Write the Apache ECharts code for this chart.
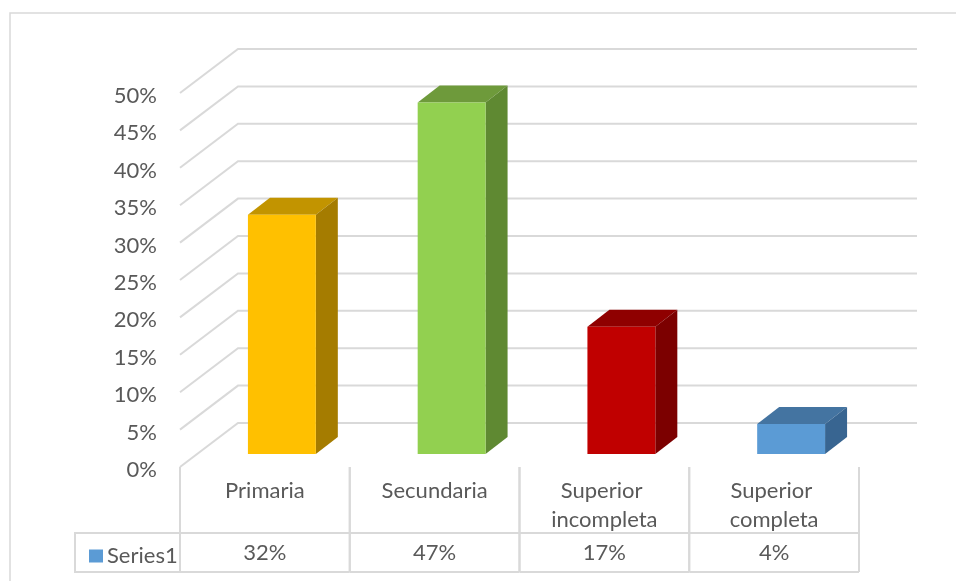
<!DOCTYPE html>
<html>
<head>
<meta charset="utf-8">
<script src="https://cdn.jsdelivr.net/npm/echarts@6/dist/echarts.min.js"></script>
<style>
  html, body { margin: 0; padding: 0; background: #ffffff; }
  #chart { width: 956px; height: 581px; }
</style>
</head>
<body>
<div id="chart"></div>
<script>
// Education level shares
const categories = ['Primaria', 'Secundaria', 'Superior incompleta', 'Superior completa'];
const shares = [32, 47, 17, 4];
const seriesName = 'Series1';
const wallTicks = [0, 5, 10, 15, 20, 25, 30, 35, 40, 45, 50];

// Face shading for each column: front, top, right side
const palette = [
  { front: '#FFC000', top: '#C29400', side: '#A57C00' },
  { front: '#92D050', top: '#6E9A3B', side: '#5F8932' },
  { front: '#C00000', top: '#8F0000', side: '#7C0000' },
  { front: '#5B9BD5', top: '#4474A1', side: '#386591' }
];

const TEXT = '#595959';
const LINE = '#d9d9d9';
const FONT = 'Lato, "Liberation Sans", sans-serif';
const FONT_SIZE = 22;

// Perspective offsets (pixels)
const WALL_DX = 58, WALL_DY = 44;     // front plane -> back wall
const BAR_DX = 17, BAR_DY = 13;       // front plane -> bar front face
const DEPTH_DX = 22, DEPTH_DY = 17;   // bar front face -> bar back face
const TABLE_ROW1 = 66, TABLE_ROW2 = 105, VALUE_Y = 86;

const chart = echarts.init(document.getElementById('chart'), null, { renderer: 'canvas' });

const option = {
  animation: false,
  backgroundColor: '#ffffff',
  textStyle: { fontFamily: FONT },
  grid: { left: 180, right: 97, top: 93, bottom: 114, containLabel: false },
  legend: {
    data: [seriesName],
    selectedMode: false,
    left: 84,
    top: 540,
    icon: 'rect',
    itemWidth: 14,
    itemHeight: 13,
    itemGap: 5,
    textStyle: { color: TEXT, fontSize: FONT_SIZE, fontFamily: FONT, padding: [0, 0, 0, -1] }
  },
  xAxis: {
    type: 'category',
    data: categories,
    axisLine: { show: false },
    axisTick: { show: false },
    splitLine: { show: false },
    axisLabel: {
      interval: 0,
      margin: 9,
      color: TEXT,
      fontSize: FONT_SIZE,
      fontFamily: FONT,
      lineHeight: 29,
      width: 140,
      overflow: 'break',
      align: 'center'
    }
  },
  yAxis: {
    type: 'value',
    min: 0,
    max: 50,
    interval: 5,
    axisLine: { show: false },
    axisTick: { show: false },
    splitLine: { show: false },
    axisLabel: {
      margin: 23,
      color: TEXT,
      fontSize: FONT_SIZE,
      fontFamily: FONT,
      formatter: '{pct|{value}%}',
      rich: {
        pct: {
          color: TEXT,
          fontSize: FONT_SIZE,
          fontFamily: FONT,
          lineHeight: 22,
          padding: [6, 0, 0, 0]
        }
      }
    }
  },
  graphic: [
    {
      type: 'rect',
      shape: { x: 10, y: 13, width: 1000, height: 700 },
      style: { fill: 'none', stroke: LINE, lineWidth: 1.5 },
      z: 0
    },
    {
      type: 'polyline',
      shape: { points: [[180, 533], [75, 533], [75, 572], [180, 572]] },
      style: { fill: 'none', stroke: LINE, lineWidth: 2 },
      z: 1
    }
  ],
  series: [
    {
      // back wall gridlines with their receding diagonals
      type: 'custom',
      name: 'wall',
      coordinateSystem: 'cartesian2d',
      z: 1,
      silent: true,
      data: wallTicks.map(t => [0, t]),
      renderItem(params, api) {
        const cs = params.coordSys;
        const y = api.coord([0, api.value(1)])[1];
        const x0 = cs.x;
        const x1 = cs.x + cs.width;
        return {
          type: 'polyline',
          shape: { points: [[x0, y], [x0 + WALL_DX, y - WALL_DY], [x1 + WALL_DX, y - WALL_DY]] },
          style: { fill: 'none', stroke: LINE, lineWidth: 2 }
        };
      }
    },
    {
      type: 'custom',
      name: seriesName,
      coordinateSystem: 'cartesian2d',
      z: 3,
      itemStyle: { color: '#5B9BD5' },
      data: shares.map((v, i) => [i, v]),
      renderItem(params, api) {
        const i = api.value(0);
        const v = api.value(1);
        const topPt = api.coord([i, v]);
        const basePt = api.coord([i, 0]);
        const band = api.size([1, 0])[0];
        const half = band * 0.2;
        const cx = topPt[0] + BAR_DX;
        const L = cx - half, R = cx + half;
        const T = topPt[1] - BAR_DY, B = basePt[1] - BAR_DY;
        const c = palette[i];
        const colL = topPt[0] - band / 2, colR = topPt[0] + band / 2;
        const y0 = basePt[1];
        const lineStyle = { stroke: LINE, lineWidth: 2 };
        return {
          type: 'group',
          children: [
            {
              type: 'polygon',
              shape: { points: [[L, T], [R, T], [R + DEPTH_DX, T - DEPTH_DY], [L + DEPTH_DX, T - DEPTH_DY]] },
              style: { fill: c.top }
            },
            {
              type: 'polygon',
              shape: { points: [[R, T], [R + DEPTH_DX, T - DEPTH_DY], [R + DEPTH_DX, B - DEPTH_DY], [R, B]] },
              style: { fill: c.side }
            },
            {
              type: 'rect',
              shape: { x: L, y: T, width: R - L, height: B - T },
              style: { fill: c.front }
            },
            // data table column
            { type: 'line', shape: { x1: colL, y1: y0, x2: colL, y2: y0 + TABLE_ROW2 }, style: lineStyle },
            { type: 'line', shape: { x1: colR, y1: y0, x2: colR, y2: y0 + TABLE_ROW2 }, style: lineStyle },
            { type: 'line', shape: { x1: colL, y1: y0 + TABLE_ROW1, x2: colR, y2: y0 + TABLE_ROW1 }, style: lineStyle },
            { type: 'line', shape: { x1: colL, y1: y0 + TABLE_ROW2, x2: colR, y2: y0 + TABLE_ROW2 }, style: lineStyle },
            {
              type: 'text',
              style: {
                x: topPt[0],
                y: y0 + VALUE_Y,
                text: v + '%',
                fill: TEXT,
                font: FONT_SIZE + 'px ' + FONT,
                align: 'center',
                verticalAlign: 'middle'
              }
            }
          ]
        };
      }
    }
  ]
};

chart.setOption(option);
</script>
</body>
</html>
